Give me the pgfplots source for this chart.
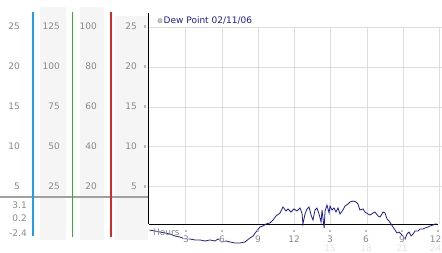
\documentclass[border=0pt]{standalone}
\usepackage{pgfplots}
\pgfplotsset{compat=1.18}
\usepackage{fontspec}
\setmainfont{DejaVu Sans}
\definecolor{lbl}{RGB}{136,136,136}
\definecolor{faint}{RGB}{228,228,228}
\definecolor{colbg}{RGB}{245,245,245}
\definecolor{gridc}{RGB}{221,221,221}
\definecolor{colcyan}{RGB}{30,160,230}
\definecolor{colgreen}{RGB}{48,176,48}
\definecolor{colred}{RGB}{215,40,40}
\definecolor{dewblue}{RGB}{28,28,160}
\definecolor{sepgray}{RGB}{160,160,160}
\begin{document}
\begin{tikzpicture}[x=1pt,y=1pt,every node/.style={font=\fontsize{9}{10}\selectfont,inner sep=0pt,text=lbl}]
\path[use as bounding box] (0,0) rectangle (442,253);
% left panel backgrounds
\fill[colbg] (40,246) rectangle (66,13);
\fill[colbg] (80,246) rectangle (104,13);
\fill[colbg] (115,237) rectangle (148,13);
% separator
\draw[sepgray,line width=1.5pt] (0,56) -- (148,56);
% coloured vertical lines
\draw[draw=colcyan,line width=1.5pt] (33.2,241) -- (33.2,17);
\draw[draw=colgreen,line width=1.2pt] (72.5,241) -- (72.5,16);
\draw[draw=colred,line width=1.5pt] (111.2,241) -- (111.2,16);
% column labels
\foreach \Y/\a/\b/\c/\d in {226.3/25/125/100/25, 186.5/20/100/80/20, 146.5/15/75/60/15, 106.7/10/50/40/10, 66.5/5/25/20/5}{
  \node[anchor=east] at (20,\Y) {\a};
  \node[anchor=east] at (60,\Y) {\b};
  \node[anchor=east] at (97,\Y) {\c};
  \node[anchor=east] at (137,\Y) {\d};
  \fill[gray!55] (143.7,\Y-1.3) rectangle (146.3,\Y+1.3);
}
\node[anchor=east] at (27,48) {3.1};
\node[anchor=east] at (27,35) {0.2};
\node[anchor=east] at (27,20.3) {-2.4};
\begin{axis}[
  at={(149.5pt,2.85pt)}, anchor=south west,
  scale only axis, width=290pt, height=222.6pt,
  xmin=0, xmax=24, ymin=-3, ymax=25,
  axis lines=none, ticks=none, clip=false,
]
% grid
\foreach \h in {3,6,...,24}{
  \edef\tmp{\noexpand\draw[gridc,line width=1pt] (axis cs:\h,25) -- (axis cs:\h,0.25);}\tmp
}
\foreach \v in {5,10,...,25}{
  \edef\tmp{\noexpand\draw[gridc,line width=1pt] (axis cs:-0.08,\v) -- (axis cs:24.2,\v);}\tmp
}
\draw[black,line width=1.2pt] (axis cs:-0.08,26.8) -- (axis cs:-0.08,0.25);
\draw[black,line width=1.2pt] (axis cs:-0.08,0.25) -- (axis cs:23.9,0.25);
\addplot[dewblue,line width=0.8pt,mark=none] coordinates {
(0,-0.47) (0.455,-0.59) (0.869,-0.72) (1.283,-0.84) (1.697,-0.97) (2.11,-1.22)
(2.52,-1.35) (2.94,-1.60) (3.35,-1.60) (3.77,-1.72) (4.18,-1.72) (4.59,-1.85)
(5.01,-1.72) (5.42,-1.85) (5.67,-1.60) (6.00,-1.97) (6.33,-1.85) (6.66,-1.97)
(7.08,-2.10) (7.49,-2.10) (7.90,-1.97) (8.32,-1.47) (8.57,-1.22) (8.81,-0.72)
(9.14,-0.09) (9.39,0.04) (9.64,0.29) (9.97,0.42) (10.22,0.79) (10.47,1.30)
(10.80,1.67) (11.05,2.43) (11.30,1.92) (11.46,2.18) (11.71,1.80) (11.96,2.18)
(12.21,1.92) (12.45,2.30) (12.62,1.67) (12.70,0.29) (12.87,1.55) (13.03,2.18)
(13.20,2.43) (13.37,1.42) (13.53,0.79) (13.70,2.05) (13.86,2.30) (14.03,1.55)
(14.20,0.54) (14.28,2.05) (14.45,-0.21) (14.53,1.92) (14.69,2.68) (14.86,1.67)
(14.94,2.55) (15.10,2.05) (15.27,2.30) (15.43,1.80) (15.60,2.30) (15.77,1.55)
(16.01,2.05) (16.18,2.55) (16.43,2.81) (16.59,3.06) (16.84,3.18) (17.09,3.06)
(17.25,2.81) (17.42,2.05) (17.67,2.18) (17.83,1.80) (18.08,1.55) (18.25,1.42)
(18.50,1.67) (18.66,1.80) (18.91,1.30) (19.08,1.17) (19.33,1.80) (19.49,1.67)
(19.66,0.92) (19.82,0.67) (19.99,0.29) (20.15,-0.09) (20.32,-0.47) (20.48,-0.84)
(20.65,-0.72) (20.82,-0.97) (20.98,-1.22) (21.15,-1.60) (21.31,-0.97) (21.48,-0.72)
(21.65,-1.22) (21.81,-0.97) (21.98,-0.59) (22.23,-0.59) (22.39,-0.34) (22.64,-0.34)
(22.81,-0.21) (23.06,-0.09) (23.22,0.04) (23.47,0.16) (23.64,0.29) (23.81,0.29)
};
\end{axis}
% x tick labels and marks
\node[anchor=west] at (153,21) {Hours};
\foreach \X in {186,222,258,294,330,366,402,438}{
  \fill[gray!55] (\X-1.3,20.7) rectangle (\X+1.3,23.3);
}
\foreach \X/\t in {186/3,222/6,258/9,294/12,330/3,366/6,402/9,435.5/12}{
  \node[fill=white,fill opacity=0.5,text opacity=1] at (\X,14) {\t};
}
\foreach \X/\t in {330/15,366/18,402/21,435.5/24}{
  \node[text=faint] at (\X,4.6) {\t};
}
% legend
\filldraw[fill=gray!45,draw=gray!75,line width=0.5pt] (160,232.3) circle (2.2);
\node[anchor=west,text=dewblue] at (163.5,232.3) {Dew Point 02/11/06};
\end{tikzpicture}
\end{document}
